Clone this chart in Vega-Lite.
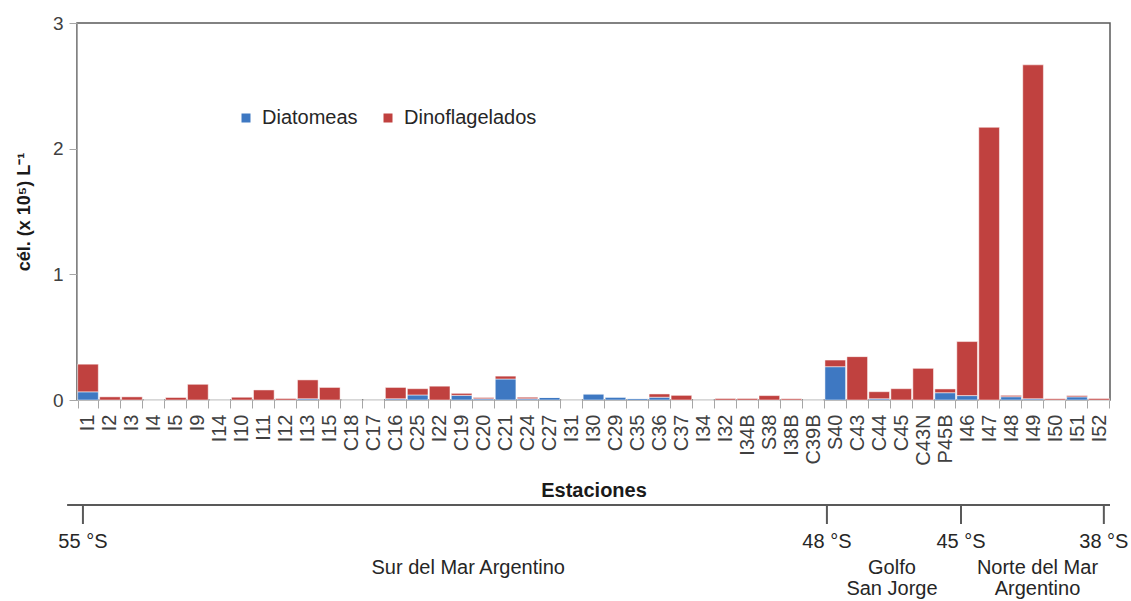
{
  "$schema": "https://vega.github.io/schema/vega-lite/v6.json",
  "padding": {"left": 14, "top": 13, "right": 0, "bottom": 0},
  "background": "white",
  "config": {"font": "Liberation Sans", "view": {"stroke": null}},
  "spacing": 3,
  "datasets": {
    "estaciones": [
      {"estacion": "I1", "Diatomeas": 0.065, "Dinoflagelados": 0.22},
      {"estacion": "I2", "Diatomeas": 0, "Dinoflagelados": 0.025},
      {"estacion": "I3", "Diatomeas": 0, "Dinoflagelados": 0.025},
      {"estacion": "I4", "Diatomeas": 0, "Dinoflagelados": 0},
      {"estacion": "I5", "Diatomeas": 0, "Dinoflagelados": 0.02},
      {"estacion": "I9", "Diatomeas": 0, "Dinoflagelados": 0.125},
      {"estacion": "I14", "Diatomeas": 0, "Dinoflagelados": 0},
      {"estacion": "I10", "Diatomeas": 0, "Dinoflagelados": 0.022},
      {"estacion": "I11", "Diatomeas": 0, "Dinoflagelados": 0.08},
      {"estacion": "I12", "Diatomeas": 0, "Dinoflagelados": 0.012},
      {"estacion": "I13", "Diatomeas": 0.01, "Dinoflagelados": 0.15},
      {"estacion": "I15", "Diatomeas": 0, "Dinoflagelados": 0.1},
      {"estacion": "C18", "Diatomeas": 0, "Dinoflagelados": 0},
      {"estacion": "C17", "Diatomeas": 0, "Dinoflagelados": 0},
      {"estacion": "C16", "Diatomeas": 0.01, "Dinoflagelados": 0.09},
      {"estacion": "C25", "Diatomeas": 0.04, "Dinoflagelados": 0.05},
      {"estacion": "I22", "Diatomeas": 0, "Dinoflagelados": 0.11},
      {"estacion": "C19", "Diatomeas": 0.037, "Dinoflagelados": 0.016},
      {"estacion": "C20", "Diatomeas": 0.01, "Dinoflagelados": 0.01},
      {"estacion": "C21", "Diatomeas": 0.167, "Dinoflagelados": 0.023},
      {"estacion": "C24", "Diatomeas": 0.01, "Dinoflagelados": 0.012},
      {"estacion": "C27", "Diatomeas": 0.02, "Dinoflagelados": 0},
      {"estacion": "I31", "Diatomeas": 0, "Dinoflagelados": 0},
      {"estacion": "I30", "Diatomeas": 0.048, "Dinoflagelados": 0},
      {"estacion": "C29", "Diatomeas": 0.023, "Dinoflagelados": 0},
      {"estacion": "C35", "Diatomeas": 0.012, "Dinoflagelados": 0},
      {"estacion": "C36", "Diatomeas": 0.022, "Dinoflagelados": 0.026},
      {"estacion": "C37", "Diatomeas": 0, "Dinoflagelados": 0.037},
      {"estacion": "I34", "Diatomeas": 0, "Dinoflagelados": 0},
      {"estacion": "I32", "Diatomeas": 0, "Dinoflagelados": 0.012},
      {"estacion": "I34B", "Diatomeas": 0, "Dinoflagelados": 0.012},
      {"estacion": "S38", "Diatomeas": 0, "Dinoflagelados": 0.035},
      {"estacion": "I38B", "Diatomeas": 0, "Dinoflagelados": 0.01},
      {"estacion": "C39B", "Diatomeas": 0, "Dinoflagelados": 0},
      {"estacion": "S40", "Diatomeas": 0.265, "Dinoflagelados": 0.053},
      {"estacion": "C43", "Diatomeas": 0, "Dinoflagelados": 0.345},
      {"estacion": "C44", "Diatomeas": 0.01, "Dinoflagelados": 0.056},
      {"estacion": "C45", "Diatomeas": 0, "Dinoflagelados": 0.09},
      {"estacion": "C43N", "Diatomeas": 0, "Dinoflagelados": 0.252},
      {"estacion": "P45B", "Diatomeas": 0.058, "Dinoflagelados": 0.03},
      {"estacion": "I46", "Diatomeas": 0.035, "Dinoflagelados": 0.43},
      {"estacion": "I47", "Diatomeas": 0, "Dinoflagelados": 2.17},
      {"estacion": "I48", "Diatomeas": 0.026, "Dinoflagelados": 0.011},
      {"estacion": "I49", "Diatomeas": 0.01, "Dinoflagelados": 2.657},
      {"estacion": "I50", "Diatomeas": 0, "Dinoflagelados": 0.01},
      {"estacion": "I51", "Diatomeas": 0.025, "Dinoflagelados": 0.01},
      {"estacion": "I52", "Diatomeas": 0, "Dinoflagelados": 0.012}
    ],
    "linea": [{"desde": -0.45, "hasta": 47}],
    "latitudes": [
      {"lat": "55 °S", "pos": 0.27},
      {"lat": "48 °S", "pos": 34.12},
      {"lat": "45 °S", "pos": 40.22},
      {"lat": "38 °S", "pos": 46.72}
    ],
    "regiones": [
      {"region": "Sur del Mar Argentino", "pos": 17.8},
      {"region": "Golfo\nSan Jorge", "pos": 37.08},
      {"region": "Norte del Mar\nArgentino", "pos": 43.7}
    ]
  },
  "vconcat": [
    {
      "width": 1033,
      "height": 377,
      "view": {"stroke": "#595959", "strokeWidth": 1.5},
      "data": {"name": "estaciones"},
      "transform": [{"fold": ["Diatomeas", "Dinoflagelados"], "as": ["grupo", "valor"]}],
      "mark": {"type": "bar", "stroke": "#ffffff", "strokeOpacity": 0.5, "strokeWidth": 1},
      "encoding": {
        "x": {
          "field": "estacion", "type": "nominal", "sort": null,
          "scale": {"paddingInner": 0.06, "paddingOuter": 0.03},
          "axis": {
            "title": "Estaciones", "titleFontSize": 20, "titleFontWeight": "bold", "titleColor": "#1a1a1a", "titlePadding": 15,
            "labelAngle": -90, "labelFontSize": 20, "labelColor": "#404040", "labelPadding": 6, "labelOverlap": false,
            "tickBand": "extent", "tickSize": 8, "tickColor": "#a6a6a6", "domainColor": "#a6a6a6"
          }
        },
        "y": {
          "field": "valor", "type": "quantitative", "stack": "zero",
          "scale": {"domain": [0, 3], "nice": false},
          "axis": {
            "title": "cél. (x 10⁵) L⁻¹", "values": [0, 1, 2, 3], "format": "d", "grid": false,
            "titleFontSize": 18, "titleFontWeight": "bold", "titleColor": "#1a1a1a", "titlePadding": 19,
            "labelFontSize": 19, "labelColor": "#404040", "labelPadding": 6,
            "tickSize": 8, "tickColor": "#a6a6a6", "domainColor": "#a6a6a6"
          }
        },
        "color": {
          "field": "grupo", "type": "nominal",
          "scale": {"domain": ["Diatomeas", "Dinoflagelados"], "range": ["#3e78c2", "#c0413f"]},
          "legend": {
            "title": null, "orient": "none", "legendX": 159, "legendY": 85, "direction": "horizontal",
            "symbolType": "square", "symbolSize": 81, "symbolStrokeWidth": 0,
            "labelFontSize": 20, "labelColor": "#262626", "labelOffset": 6, "columnPadding": 20
          }
        },
        "order": {"field": "grupo", "sort": "ascending"}
      }
    },
    {
      "width": 1033,
      "height": 95,
      "layer": [
        {
          "data": {"name": "linea"},
          "mark": {"type": "rule", "color": "#595959", "strokeWidth": 2},
          "encoding": {
            "x": {"field": "desde", "type": "quantitative", "scale": {"domain": [0, 47], "nice": false, "zero": false}, "axis": null},
            "x2": {"field": "hasta"},
            "y": {"datum": 0, "type": "quantitative", "scale": {"domain": [0, 10], "reverse": true, "nice": false}, "axis": null}
          }
        },
        {
          "data": {"name": "latitudes"},
          "mark": {"type": "rule", "color": "#595959", "strokeWidth": 2},
          "encoding": {
            "x": {"field": "pos", "type": "quantitative", "scale": {"domain": [0, 47], "nice": false, "zero": false}, "axis": null},
            "y": {"datum": 0, "type": "quantitative", "scale": {"domain": [0, 10], "reverse": true, "nice": false}, "axis": null},
            "y2": {"datum": 2}
          }
        },
        {
          "data": {"name": "latitudes"},
          "mark": {"type": "text", "fontSize": 20, "color": "#262626", "baseline": "middle", "align": "center"},
          "encoding": {
            "x": {"field": "pos", "type": "quantitative", "scale": {"domain": [0, 47], "nice": false, "zero": false}, "axis": null},
            "y": {"datum": 3.9, "type": "quantitative", "scale": {"domain": [0, 10], "reverse": true, "nice": false}, "axis": null},
            "text": {"field": "lat", "type": "nominal"}
          }
        },
        {
          "data": {"name": "regiones"},
          "mark": {"type": "text", "fontSize": 20, "color": "#262626", "baseline": "top", "align": "center", "lineBreak": "\n", "lineHeight": 21},
          "encoding": {
            "x": {"field": "pos", "type": "quantitative", "scale": {"domain": [0, 47], "nice": false, "zero": false}, "axis": null},
            "y": {"datum": 5.53, "type": "quantitative", "scale": {"domain": [0, 10], "reverse": true, "nice": false}, "axis": null},
            "text": {"field": "region", "type": "nominal"}
          }
        }
      ]
    }
  ]
}
